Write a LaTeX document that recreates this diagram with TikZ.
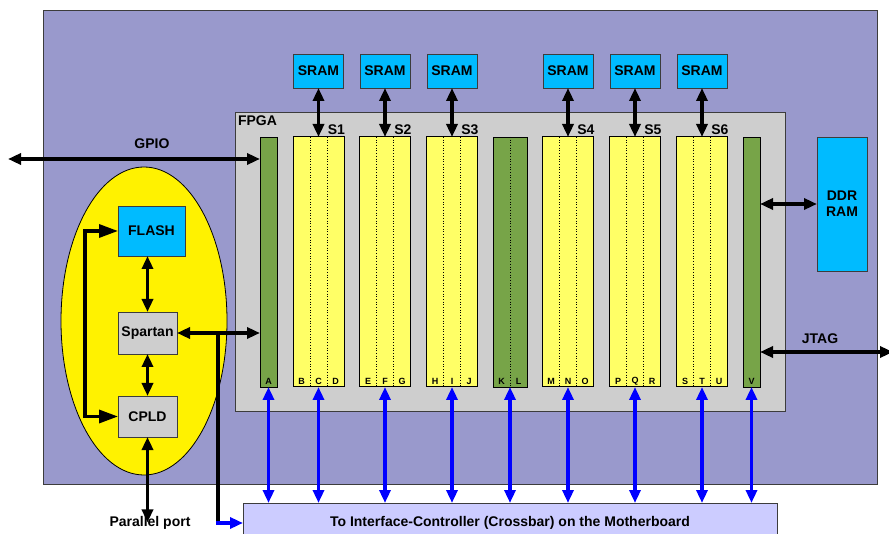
\documentclass[tikz,border=0pt]{standalone}
\usepackage{fontspec}
\setmainfont{Liberation Sans}
\usetikzlibrary{arrows.meta,shapes.geometric}
\definecolor{bgpurple}{RGB}{153,153,204}
\definecolor{fpgagray}{RGB}{206,206,206}
\definecolor{slotyellow}{RGB}{255,255,102}
\definecolor{slotgreen}{RGB}{119,164,72}
\definecolor{memblue}{RGB}{0,187,255}
\definecolor{barlav}{RGB}{204,204,255}
\definecolor{edgegray}{RGB}{60,60,60}
\tikzset{
  txt/.style={font=\bfseries\fontsize{14}{16}\selectfont, inner sep=0pt, outer sep=0pt, align=center},
  box/.style={txt, draw=edgegray, line width=0.8pt},
  sram/.style={box, fill=memblue, minimum width=50pt, minimum height=34pt},
  chip/.style={box, fill=fpgagray, minimum width=59pt, minimum height=42pt},
  yslot/.style={draw=black, line width=1pt, fill=slotyellow, minimum width=51pt, minimum height=250pt, inner sep=0pt, outer sep=0pt},
  gslot/.style={draw=black, line width=0.8pt, fill=slotgreen, minimum width=17pt, minimum height=250pt, inner sep=0pt, outer sep=0pt},
  letter/.style={font=\bfseries\fontsize{9}{10}\selectfont, inner sep=0pt},
  sep/.style={dotted, line width=0.7pt},
  blk/.style={line width=3.3pt, {Triangle[length=13pt,width=11pt]}-{Triangle[length=13pt,width=11pt]}},
  bigblk/.style={line width=3.3pt, {Triangle[length=19pt,width=13pt]}-{Triangle[length=19pt,width=13pt]}},
  blu/.style={blk, draw=blue},
  oneway/.style={line width=3.3pt, -{Triangle[length=13pt,width=11pt]}}
}
\begin{document}
\begin{tikzpicture}[x=1pt,y=-1pt]
\useasboundingbox (0,0) rectangle (889,534);
% background board
\node[draw=edgegray, line width=0.8pt, fill=bgpurple, minimum width=834pt, minimum height=474pt, inner sep=0pt, outer sep=0pt] (board) at (460,247) {};
% FPGA
\node[draw=edgegray, line width=0.8pt, fill=fpgagray, minimum width=550pt, minimum height=299pt, inner sep=0pt, outer sep=0pt] (fpga) at (510,261.5) {};
\node[txt, anchor=north west] (fpgalab) at ([xshift=3pt,yshift=-4pt]fpga.north west) {FPGA};
% MCU ellipse
\node[draw=black, line width=0.8pt, fill=yellow, ellipse, minimum width=166pt, minimum height=308pt, inner sep=0pt] (mcu) at (144,321) {};
% interface bar
\node[box, fill=barlav, minimum width=534pt, minimum height=40pt] (bar) at (510,523) {To Interface-Controller (Crossbar) on the Motherboard};
% green slots
\node[gslot] (a) at (268.5,262) {};
\node[letter] (a-a) at (268.5,381) {A};
\node[gslot, minimum width=34pt] (kl) at (510,262) {};
\draw[sep] (kl.north) -- (kl.south);
\node[letter] (kl-a) at (501.5,381) {K};
\node[letter] (kl-b) at (518.5,381) {L};
\node[gslot] (v) at (751.5,262) {};
\node[letter] (v-a) at (751.5,381) {V};
% yellow slots with SRAMs
\foreach \n/\x/\a/\b/\c/\s in {s1/318.5/B/C/D/S1, s2/385/E/F/G/S2, s3/452/H/I/J/S3, s4/568/M/N/O/S4, s5/635/P/Q/R/S5, s6/702/S/T/U/S6} {
  \node[yslot] (\n) at (\x,262) {};
  \draw[sep] ([xshift=-8.5pt]\n.north) -- ([xshift=-8.5pt]\n.south);
  \draw[sep] ([xshift=8.5pt]\n.north) -- ([xshift=8.5pt]\n.south);
  \node[letter] (\n-a) at (\x-17,381) {\a};
  \node[letter] (\n-b) at (\x,381) {\b};
  \node[letter] (\n-c) at (\x+17,381) {\c};
  \node[txt, anchor=south east] (\n-lab) at ([xshift=1pt,yshift=2pt]\n.north east) {\s};
  \node[sram] (\n-ram) at (\x,71) {SRAM};
  \draw[blk] (\n-ram.south) -- (\n.north);
  \draw[blu] (\n.south) -- (\n.south |- bar.north);
}
\draw[blu] (a.south) -- (a.south |- bar.north);
\draw[blu] (kl.south) -- (kl.south |- bar.north);
\draw[blu] (v.south) -- (v.south |- bar.north);
% DDR RAM
\node[box, fill=memblue, minimum width=50pt, minimum height=134pt] (ddr) at (842,204) {DDR\\RAM};
\draw[blk] (v.east |- ddr.west) -- (ddr.west);
% JTAG
\coordinate (jt) at (893,352);
\draw[blk] (jt) -- (jt -| v.east);
\node[txt] (jtaglab) at (820,339) {JTAG};
% GPIO
\coordinate (gp) at (8,159);
\draw[blk] (gp) -- (gp -| a.west);
\node[txt] (gpiolab) at (152,144) {GPIO};
% MCU parts
\node[box, fill=memblue, minimum width=67pt, minimum height=50pt] (flash) at (151.5,231) {FLASH};
\node[chip] (spartan) at (147.5,333) {Spartan};
\node[chip, minimum height=41pt] (cpld) at (147.5,416.5) {CPLD};
\draw[blk] (spartan.north) -- (spartan.north |- flash.south);
\draw[blk] (spartan.south) -- (cpld.north);
\node[txt] (pp) at (150,523) {Parallel port};
\draw[blk] (cpld.south) -- ([yshift=-6pt]pp.north -| cpld.south);
\draw[bigblk] (flash.west) -- ++(-33,0) |- (cpld.west);
\draw[blk] (spartan.east) -- (spartan.east -| a.west);
\coordinate (br) at (218,333);
\draw[line width=3.3pt] (br) -- (br |- bar.west);
\draw[oneway, blue] ([xshift=-1.65pt]br |- bar.west) -- (bar.west);
\end{tikzpicture}
\end{document}
